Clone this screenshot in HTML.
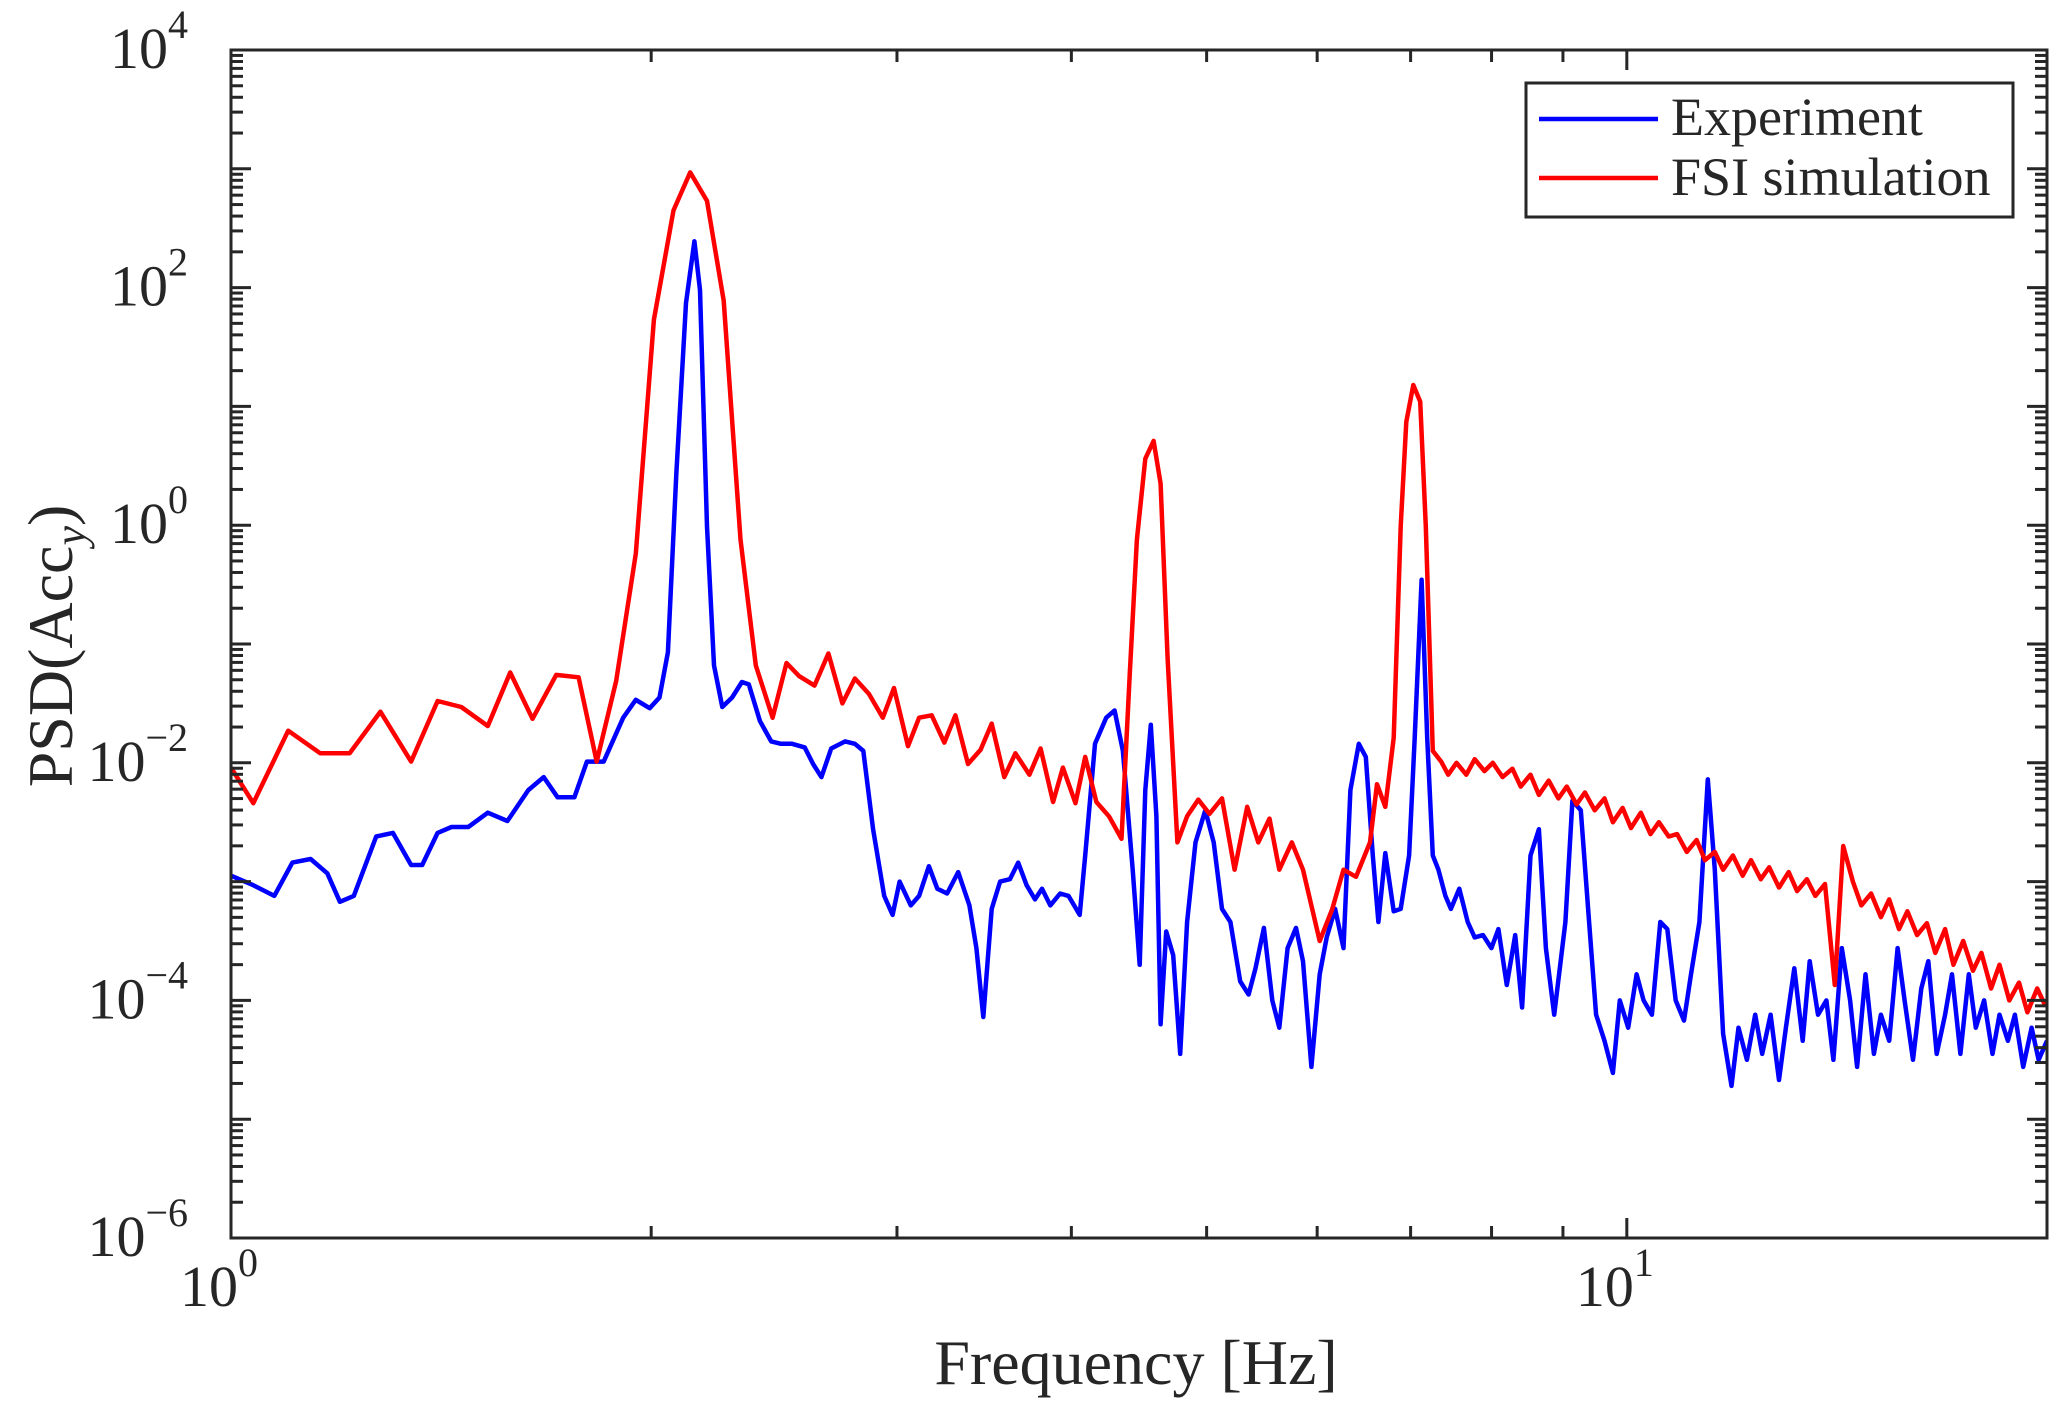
<!DOCTYPE html>
<html><head><meta charset="utf-8">
<style>
html,body{margin:0;padding:0;background:#fff;}
svg{display:block;font-family:"Liberation Serif",serif;}
</style></head>
<body>
<svg id="chart" width="2067" height="1417" viewBox="0 0 2067 1417" xmlns="http://www.w3.org/2000/svg">
<rect width="2067" height="1417" fill="#fff"/>
<g id="plot"></g>
<g id="axes"></g>
<g>
<rect x="1526" y="83" width="487" height="134" fill="#fff" stroke="#262626" stroke-width="3"/>
<line x1="1539" y1="119" x2="1658" y2="119" stroke="#0000ff" stroke-width="4.5"/>
<text x="1671" y="135" font-size="54" fill="#262626">Experiment</text>
<line x1="1539" y1="178" x2="1658" y2="178" stroke="#ff0000" stroke-width="4.5"/>
<text x="1671" y="195" font-size="54" fill="#262626">FSI simulation</text>
</g>
<text x="1136" y="1384" font-size="64" fill="#262626" text-anchor="middle">Frequency [Hz]</text>
<text transform="translate(72,646) rotate(-90)" font-size="64" fill="#262626" text-anchor="middle">PSD(Acc<tspan font-style="italic" font-size="44" dy="13">y</tspan><tspan dy="-13">)</tspan></text>
</svg>
<script>
// log10(frequency in Hz) and log10(PSD) values
const redLogF=[0,.016,.041,.064,.085,.107,.129,.148,.165,.184,.200,.216,.233,.249,.262,.276,.290,.303,.317,.329,.341,.353,.365,.376,.388,.398,.407,.418,.428,.438,.447,.457,.467,.475,.485,.493,.502,.511,.519,.528,.537,.545,.554,.562,.572,.580,.589,.596,.605,.612,.620,.629,.638,.644,.649,.655,.661,.666,.671,.678,.685,.693,.701,.710,.719,.728,.736,.744,.751,.760,.768,.780,.789,.797,.806,.816,.821,.827,.833,.838,.842,.847,.852,.856,.861,.867,.872,
.878,.885,.891,.898,.904,.911,.918,.924,.931,.937,.944,.951,.957,.964,.970,.977,.984,.990,.997,1.003,1.010,1.017,1.023,1.030,1.036,1.043,1.050,1.056,1.063,1.069,1.076,1.083,1.089,1.096,1.102,1.109,1.116,1.122,1.129,1.135,1.142,1.149,1.155,1.162,1.168,1.175,1.182,1.188,1.195,1.201,1.208,1.215,1.221,1.228,1.234,1.241,1.248,1.254,1.261,1.267,1.274,1.281,1.287,1.294,1.300];
const redLogP=[-2.04,-2.34,-1.73,-1.92,-1.92,-1.57,-1.99,-1.48,-1.53,-1.69,-1.24,-1.63,-1.26,-1.28,-1.99,-1.31,-0.24,1.73,2.65,2.97,2.73,1.89,-0.12,-1.18,-1.62,-1.16,-1.27,-1.35,-1.08,-1.5,-1.29,-1.42,-1.62,-1.37,-1.86,-1.62,-1.6,-1.83,-1.6,-2.01,-1.89,-1.67,-2.12,-1.92,-2.1,-1.88,-2.33,-2.04,-2.34,-1.95,-2.33,-2.45,-2.64,-1.23,-0.12,0.56,0.71,0.35,-1.12,-2.67,-2.45,-2.31,-2.43,-2.3,-2.9,-2.37,-2.67,-2.47,-2.9,-2.67,-2.9,-3.5,-3.23,-2.9,-2.96,-2.67,-2.18,-2.37,-1.79,-0.01,0.87,1.18,1.04,-0.01,-1.9,-1.99,-2.1,
-2.0,-2.1,-1.97,-2.07,-2.0,-2.12,-2.05,-2.2,-2.1,-2.27,-2.15,-2.3,-2.2,-2.35,-2.25,-2.4,-2.3,-2.5,-2.38,-2.55,-2.42,-2.6,-2.5,-2.62,-2.6,-2.75,-2.65,-2.82,-2.75,-2.9,-2.78,-2.95,-2.82,-2.98,-2.88,-3.05,-2.92,-3.08,-2.98,-3.12,-3.02,-3.87,-2.7,-3.0,-3.2,-3.1,-3.3,-3.15,-3.4,-3.25,-3.45,-3.35,-3.6,-3.4,-3.7,-3.5,-3.75,-3.6,-3.9,-3.7,-4.0,-3.85,-4.1,-3.9,-4.05];
const blueLogF=[0,.016,.031,.044,.057,.069,.078,.088,.104,.116,.129,.137,.148,.158,.170,.184,.198,.213,.224,.234,.246,.255,.267,.281,.290,.300,.307,.313,.319,.326,.332,.336,.341,.346,.352,.359,.366,.371,.379,.387,.394,.402,.411,.417,.423,.430,.440,.447,.453,.460,.468,.474,.479,.487,.493,.500,.506,.513,.521,.529,.534,.539,.545,.551,.558,.564,.570,.576,.581,.587,.594,.600,.608,.612,.619,.627,.633,.639,.646,.651,.655,.659,.663,.666,.670,.675,.680,.685,.691,.698,.704,.710,.716,.723,.729,.734,.740,.746,.751,.757,.763,.768,.774,.780,.785,.791,.797,.802,.808,.813,.818,.822,.827,.833,.838,.844,.848,.853,.857,.861,.865,.870,.874,.880,.886,.891,.897,.903,.908,.914,.920,.925,.931,.937,.942,.948,.956,.961,.967,.973,.978,.984,.990,.995,1.001,1.007,1.012,1.018,1.024,1.029,1.035,1.041,1.046,1.052,1.058,1.063,1.069,1.075,1.080,1.086,1.092,1.097,1.103,1.109,1.114,1.120,1.126,1.131,1.137,1.143,1.148,1.154,1.160,1.165,1.171,1.177,1.182,1.188,1.194,1.199,1.205,1.211,1.216,1.222,1.228,1.233,1.239,1.245,1.250,1.256,1.262,1.267,1.273,1.278,1.284,1.290,1.295,1.301];
const blueLogP=[-2.95,-3.03,-3.12,-2.84,-2.81,-2.93,-3.17,-3.12,-2.62,-2.59,-2.86,-2.86,-2.59,-2.54,-2.54,-2.42,-2.49,-2.23,-2.12,-2.29,-2.29,-1.99,-1.99,-1.62,-1.47,-1.54,-1.45,-1.07,0.43,1.87,2.39,1.98,-0.01,-1.18,-1.53,-1.45,-1.32,-1.34,-1.65,-1.82,-1.84,-1.84,-1.87,-2.01,-2.12,-1.88,-1.82,-1.84,-1.9,-2.56,-3.12,-3.28,-3.0,-3.2,-3.12,-2.87,-3.06,-3.1,-2.92,-3.2,-3.56,-4.14,-3.23,-3.0,-2.98,-2.84,-3.03,-3.15,-3.06,-3.2,-3.1,-3.12,-3.28,-2.78,-1.84,-1.62,-1.56,-1.9,-2.9,-3.7,-2.23,-1.68,-2.45,-4.2,-3.42,-3.62,-4.45,-3.34,-2.67,-2.4,-2.67,-3.23,-3.34,-3.84,-3.95,-3.73,-3.39,-4.0,-4.23,-3.56,-3.39,-3.67,-4.56,-3.78,-3.47,-3.23,-3.56,-2.23,-1.84,-1.95,-2.78,-3.34,-2.76,-3.25,-3.23,-2.78,-1.79,-0.46,-1.79,-2.78,-2.9,-3.12,-3.23,-3.06,-3.34,-3.47,-3.45,-3.56,-3.4,-3.87,-3.45,-4.06,-2.78,-2.56,-3.56,-4.12,-3.34,-2.32,-2.4,-3.34,-4.12,-4.34,-4.61,-4.0,-4.23,-3.78,-4.0,-4.12,-3.34,-3.4,-4.0,-4.17,-3.78,-3.34,-2.14,-2.9,-4.28,-4.72,-4.23,-4.5,-4.12,-4.45,-4.12,-4.67,-4.23,-3.73,-4.34,-3.67,-4.12,-4.0,-4.5,-3.56,-4.0,-4.56,-3.78,-4.45,-4.12,-4.34,-3.56,-4.0,-4.5,-3.9,-3.67,-4.45,-4.12,-3.78,-4.45,-3.78,-4.23,-4.0,-4.45,-4.12,-4.34,-4.12,-4.56,-4.23,-4.5,-4.34];
const yTickExps=[4,2,0,-2,-4,-6];
const xTickExps=[0,1];

const L=231,R=2047,T=50,B=1238;
const xMinLog=0,xMaxLog=Math.log10(20),yMinLog=-6,yMaxLog=4;
const xs=lf=>L+(lf-xMinLog)/(xMaxLog-xMinLog)*(R-L);
const ys=lp=>B-(lp-yMinLog)/(yMaxLog-yMinLog)*(B-T);
const NS="http://www.w3.org/2000/svg";
const plot=document.getElementById('plot'),axes=document.getElementById('axes');
function mk(tag,attrs,parent){const e=document.createElementNS(NS,tag);for(const k in attrs)e.setAttribute(k,attrs[k]);parent.appendChild(e);return e;}

const clip=mk('clipPath',{id:'pc'},plot);mk('rect',{x:L,y:T,width:R-L,height:B-T},clip);
function series(lf,lp,color,name){
  const d=lf.map((f,i)=>(i?'L':'M')+xs(f).toFixed(1)+' '+ys(lp[i]).toFixed(1)).join('');
  const p=mk('path',{d:d,fill:'none',stroke:color,'stroke-width':4.5,'stroke-linejoin':'round','clip-path':'url(#pc)'},plot);
  
  
}
series(blueLogF,blueLogP,'#0000ff','experiment-line');
series(redLogF,redLogP,'#ff0000','fsi-simulation-line');

const ax='#262626';
mk('rect',{x:L,y:T,width:R-L,height:B-T,fill:'none',stroke:ax,'stroke-width':3},axes);
for(let e=yMinLog;e<yMaxLog;e++){
  for(let m=1;m<10;m++){
    const y=ys(e+Math.log10(m)),len=m===1?20:12;
    mk('line',{x1:L,x2:L+len,y1:y,y2:y,stroke:ax,'stroke-width':3},axes);
    mk('line',{x1:R,x2:R-len,y1:y,y2:y,stroke:ax,'stroke-width':3},axes);
  }
}
yTickExps.forEach(e=>{
  const t=mk('text',{x:188,y:ys(e)+18,'font-size':58,fill:ax,'text-anchor':'end'},axes);
  
  
  t.innerHTML='10<tspan font-size="40" dy="-30">'+(e<0?'\u2212'+(-e):e)+'</tspan>';
});
for(let e=0;e<2;e++){
  for(let m=1;m<10;m++){
    const lf=e+Math.log10(m); if(lf>xMaxLog+1e-6)break;
    const x=xs(lf),len=m===1?20:12;
    mk('line',{x1:x,x2:x,y1:B,y2:B-len,stroke:ax,'stroke-width':3},axes);
    mk('line',{x1:x,x2:x,y1:T,y2:T+len,stroke:ax,'stroke-width':3},axes);
  }
}
xTickExps.forEach(e=>{
  const t=mk('text',{x:xs(e)-12,y:1306,'font-size':58,fill:ax,'text-anchor':'middle'},axes);
  
  
  t.innerHTML='10<tspan font-size="40" dy="-30">'+e+'</tspan>';
});
</script>
</body></html>
